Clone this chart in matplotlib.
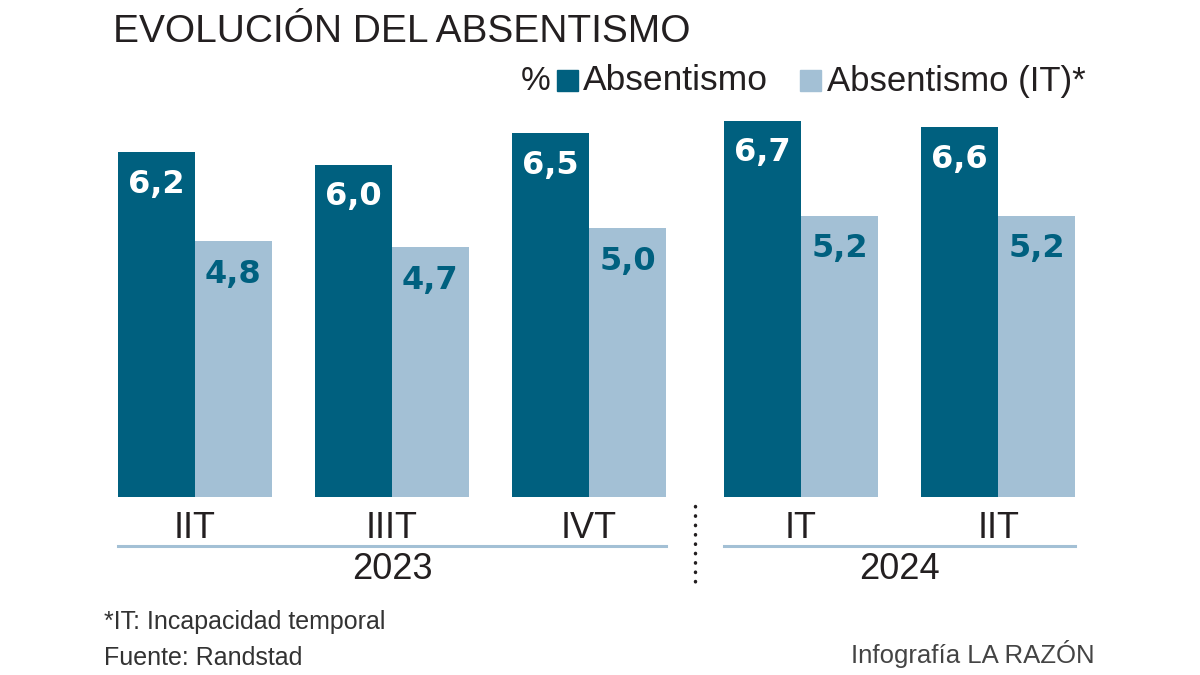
import numpy as np
import matplotlib
matplotlib.use("Agg")
import matplotlib.pyplot as plt
import matplotlib.transforms as mtransforms
from matplotlib.patches import Rectangle

quarters = ["IIT", "IIIT", "IVT", "IT", "IIT"]
years = ["2023", "2024"]
year_groups = [[0, 1, 2], [3, 4]]
absentismo = [6.2, 6.0, 6.5, 6.7, 6.6]
absentismo_it = [4.8, 4.7, 5.0, 5.2, 5.2]

DARK = "#00607f"
LIGHT = "#a3c0d5"
TEXT = "#231f20"

plt.rcParams["font.family"] = ["Liberation Sans", "DejaVu Sans"]


def fmt(v):
    return "{:.1f}".format(v).replace(".", ",")


def main():
    fig = plt.figure(figsize=(12, 6.75), dpi=100)
    ax = fig.add_axes([118 / 1200, 1 - 497 / 675, 957 / 1200, 387 / 675])

    # small extra gap between the two years
    x = np.array([0, 1, 2, 3.076, 4.076])
    w = 0.39

    b1 = ax.bar(x - w / 2, absentismo, w, color=DARK)
    b2 = ax.bar(x + w / 2, absentismo_it, w, color=LIGHT)

    for rect, v in zip(b1, absentismo):
        ax.annotate(fmt(v), (rect.get_x() + rect.get_width() / 2, v),
                    xytext=(0, -23), textcoords="offset points",
                    ha="center", va="center", color="white",
                    fontsize=23, fontweight="bold", family="DejaVu Sans")
    for rect, v in zip(b2, absentismo_it):
        ax.annotate(fmt(v), (rect.get_x() + rect.get_width() / 2, v),
                    xytext=(0, -24), textcoords="offset points",
                    ha="center", va="center", color=DARK,
                    fontsize=23, fontweight="bold", family="DejaVu Sans")

    ax.set_xlim(-0.39, 4.466)
    ax.set_ylim(0.75, 6.87)
    for s in ax.spines.values():
        s.set_visible(False)
    ax.set_yticks([])
    ax.set_xticks(x)
    ax.set_xticklabels(quarters, fontsize=26, color=TEXT)
    ax.tick_params(axis="x", length=0, pad=10)

    trans = mtransforms.blended_transform_factory(ax.transData, ax.transAxes)
    for year, idx in zip(years, year_groups):
        left = x[idx[0]] - w
        right = x[idx[-1]] + w
        ax.plot([left, right], [-0.1266, -0.1266], color=LIGHT, lw=2.2,
                transform=trans, clip_on=False)
        ax.text((left + right) / 2, -0.188, year, transform=trans,
                ha="center", va="center", fontsize=26, color=TEXT)

    sep = (x[2] + w + x[3] - w) / 2
    ax.plot([sep, sep], [-0.022, -0.24], color=TEXT, lw=2.5,
            linestyle=(0, (0.1, 2.6)), dash_capstyle="round",
            transform=trans, clip_on=False)

    # title
    fig.text(113 / 1200, 1 - 32 / 675, "EVOLUCIÓN DEL ABSENTISMO",
             fontsize=28, color=TEXT, ha="left", va="center")

    # legend
    ly = 1 - 81 / 675
    fig.text(521 / 1200, ly, "%", fontsize=24, color=TEXT, ha="left", va="center")
    fig.patches.append(Rectangle((557 / 1200, 1 - 91 / 675), 21 / 1200, 21 / 675,
                                 transform=fig.transFigure, color=DARK))
    fig.text(583 / 1200, ly, "Absentismo", fontsize=25.5, color=TEXT,
             ha="left", va="center")
    fig.patches.append(Rectangle((800 / 1200, 1 - 91 / 675), 21 / 1200, 21 / 675,
                                 transform=fig.transFigure, color=LIGHT))
    fig.text(827 / 1200, ly, "Absentismo (IT)*", fontsize=25, color=TEXT,
             ha="left", va="center")

    # notes
    fig.text(104 / 1200, 1 - 622 / 675, "*IT: Incapacidad temporal",
             fontsize=18, color="#333333", ha="left", va="center")
    fig.text(104 / 1200, 1 - 658 / 675, "Fuente: Randstad",
             fontsize=18, color="#333333", ha="left", va="center")
    fig.text(1095 / 1200, 1 - 654 / 675, "Infografía LA RAZÓN",
             fontsize=18.5, color="#444444", ha="right", va="center")

    fig.savefig("out.png", dpi=100)


if __name__ == "__main__":
    main()
